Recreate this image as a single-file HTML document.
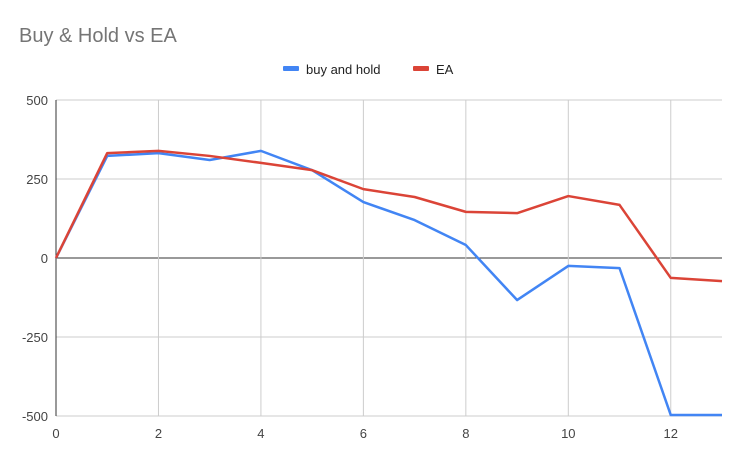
<!DOCTYPE html>
<html><head><meta charset="utf-8"><style>
body{margin:0;background:#fff;font-family:"Liberation Sans",Arial,sans-serif}
svg text{font-family:"Liberation Sans",Arial,sans-serif}
</style></head><body>
<svg id="chart" width="745" height="461">
<rect width="745" height="461" fill="#fff"/>
<text x="19" y="42" font-size="20" fill="#757575">Buy &amp; Hold vs EA</text>
<g id="legend">
<g>
<rect x="283" y="66" width="16" height="5" rx="1" fill="#4285f4"/>
<text x="306" y="74" font-size="13" fill="#222">buy and hold</text></g>
<g>
<rect x="413" y="66" width="16" height="5" rx="1" fill="#db4437"/>
<text x="436" y="74" font-size="13" fill="#222">EA</text></g>
</g>
<g id="grid"></g><g id="series"></g>
</svg>
<script>
const xValues=[0,1,2,3,4,5,6,7,8,9,10,11,12,13];
const buyHold=[0,323,332,310,339,278,177,120,41,-133,-25,-32,-497,-497];
const ea=[0,332,339,323,301,278,218,193,146,142,196,168,-63,-73];
const yTicks=[500,250,0,-250,-500];
const xTicks=[0,2,4,6,8,10,12];
const NS="http://www.w3.org/2000/svg";
const x0=56,x1=722,y0=100,y1=416,xmin=0,xmax=13,ymin=-500,ymax=500;
const X=v=>x0+(v-xmin)/(xmax-xmin)*(x1-x0);
const Y=v=>y1-(v-ymin)/(ymax-ymin)*(y1-y0);
const grid=document.getElementById('grid'),ser=document.getElementById('series');
function mk(t,a,p){const e=document.createElementNS(NS,t);for(const k in a)e.setAttribute(k,a[k]);p.appendChild(e);return e;}
yTicks.forEach(v=>{
  const l=mk('line',{x1:x0,x2:x1,y1:Y(v),y2:Y(v),stroke:v===0?'#333':'#ccc','stroke-width':1},grid);
  
  
  const t=mk('text',{x:48,y:Y(v)+5,'font-size':13,fill:'#444','text-anchor':'end'},grid);
  t.textContent=v;
  
  
});
xTicks.forEach(v=>{
  if(v>0){const l=mk('line',{x1:X(v),x2:X(v),y1:y0,y2:y1,stroke:'#ccc','stroke-width':1},grid);
  
  }
  const t=mk('text',{x:X(v),y:438,'font-size':13,fill:'#444','text-anchor':'middle'},grid);
  t.textContent=v;
  
  
});
const ax=mk('line',{x1:x0,x2:x0,y1:y0,y2:y1,stroke:'#333','stroke-width':1},grid);


function line(vals,color,name){
  const p=mk('polyline',{points:vals.map((v,i)=>X(xValues[i])+','+Y(v)).join(' '),fill:'none',stroke:color,'stroke-width':2.5,'stroke-linejoin':'round'},ser);
  
  
}
line(buyHold,'#4285f4','buy-and-hold-line');
line(ea,'#db4437','ea-line');
</script>
</body></html>
